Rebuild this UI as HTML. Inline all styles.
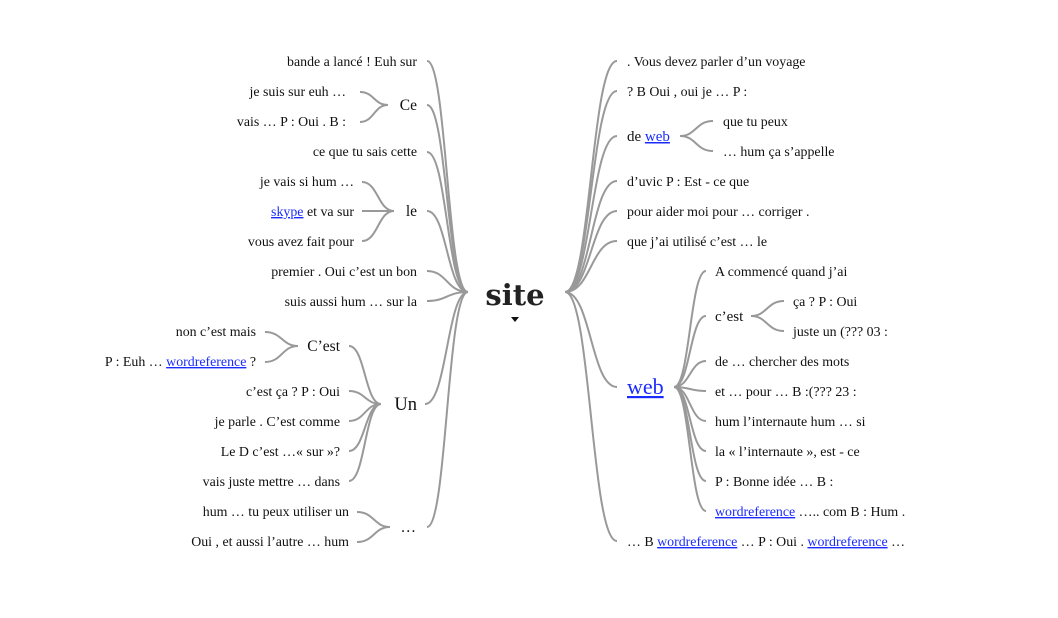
<!DOCTYPE html>
<html><head><meta charset="utf-8"><style>
html,body{margin:0;padding:0;background:#fff;}
svg{display:block;}
text{font-family:"Liberation Serif",serif;font-size:13.9px;fill:#111;}
.l{fill:#1a2bff;text-decoration:underline;}
path{fill:none;stroke:#999;stroke-width:2;}
</style></head><body>
<svg width="1058" height="618" viewBox="0 0 1058 618" xmlns="http://www.w3.org/2000/svg">
<g>
<path d="M468 292 C447 292,447 61,427 61"/>
<path d="M468 292 C447 292,447 105,427 105"/>
<path d="M468 292 C447 292,447 152,427 152"/>
<path d="M468 292 C447 292,447 211,427 211"/>
<path d="M468 292 C447 292,447 271,427 271"/>
<path d="M468 292 C447 292,447 301,427 301"/>
<path d="M468 292 C447 292,447 404,425 404"/>
<path d="M468 292 C447 292,447 527,427 527"/>
<path d="M388 105 C374 105,374 92,360 92"/>
<path d="M388 105 C374 105,374 122,360 122"/>
<path d="M394 211 C378 211,378 182,362 182"/>
<path d="M394 211 C378 211,378 211,362 211"/>
<path d="M394 211 C378 211,378 241,362 241"/>
<path d="M381 404 C365 404,365 346,349 346"/>
<path d="M381 404 C365 404,365 391,349 391"/>
<path d="M381 404 C365 404,365 421,349 421"/>
<path d="M381 404 C365 404,365 451,349 451"/>
<path d="M381 404 C365 404,365 481,349 481"/>
<path d="M298 346 C282 346,282 332,265 332"/>
<path d="M298 346 C282 346,282 362,265 362"/>
<path d="M390 527 C374 527,374 512,357 512"/>
<path d="M390 527 C374 527,374 542,357 542"/>
<path d="M565 292 C591 292,591 61,617 61"/>
<path d="M565 292 C591 292,591 91,617 91"/>
<path d="M565 292 C591 292,591 136,617 136"/>
<path d="M565 292 C591 292,591 181,617 181"/>
<path d="M565 292 C591 292,591 211,617 211"/>
<path d="M565 292 C591 292,591 241,617 241"/>
<path d="M565 292 C591 292,591 387,617 387"/>
<path d="M565 292 C591 292,591 541,617 541"/>
<path d="M680 136 C696 136,696 121,713 121"/>
<path d="M680 136 C696 136,696 151,713 151"/>
<path d="M674 387 C690 387,690 271,706 271"/>
<path d="M674 387 C690 387,690 316,706 316"/>
<path d="M674 387 C690 387,690 361,706 361"/>
<path d="M674 387 C690 387,690 391,706 391"/>
<path d="M674 387 C690 387,690 421,706 421"/>
<path d="M674 387 C690 387,690 451,706 451"/>
<path d="M674 387 C690 387,690 481,706 481"/>
<path d="M674 387 C690 387,690 511,706 511"/>
<path d="M751 316 C767 316,767 301,784 301"/>
<path d="M751 316 C767 316,767 331,784 331"/>
</g>

<g text-anchor="end">
<text x="417" y="66">bande a lancé ! Euh sur</text>
<text x="346" y="96">je suis sur euh …</text>
<text x="346" y="126">vais … P : Oui . B :</text>
<text x="417" y="110" style="font-size:15.5px">Ce</text>
<text x="417" y="156">ce que tu sais cette</text>
<text x="354" y="186">je vais si hum …</text>
<text x="354" y="216"><tspan class="l">skype</tspan> et va sur</text>
<text x="354" y="246">vous avez fait pour</text>
<text x="417" y="216" style="font-size:15.5px">le</text>
<text x="417" y="276">premier . Oui c’est un bon</text>
<text x="417" y="306">suis aussi hum … sur la</text>
<text x="256" y="336">non c’est mais</text>
<text x="256" y="366">P : Euh … <tspan class="l">wordreference</tspan> ?</text>
<text x="340" y="351" style="font-size:15.5px">C’est</text>
<text x="340" y="396">c’est ça ? P : Oui</text>
<text x="340" y="426">je parle . C’est comme</text>
<text x="340" y="456">Le D c’est …« sur »?</text>
<text x="340" y="486">vais juste mettre … dans</text>
<text x="417" y="410" style="font-size:18.5px">Un</text>
<text x="349" y="516">hum … tu peux utiliser un</text>
<text x="349" y="546">Oui , et aussi l’autre … hum</text>
<text x="416" y="532" style="font-size:15.5px">…</text>
</g>

<text x="515" y="305" text-anchor="middle" style="font-family:'DejaVu Serif',serif;font-weight:bold;font-size:29px;fill:#222">site</text>
<polygon points="511,317 519,317 515,322" fill="#111"/>

<g>
<text x="627" y="66">. Vous devez parler d’un voyage</text>
<text x="627" y="96">? B Oui , oui je … P :</text>
<text x="627" y="141" style="font-size:15px">de <tspan class="l">web</tspan></text>
<text x="723" y="126">que tu peux</text>
<text x="723" y="156">… hum ça s’appelle</text>
<text x="627" y="186">d’uvic P : Est - ce que</text>
<text x="627" y="216">pour aider moi pour … corriger .</text>
<text x="627" y="246">que j’ai utilisé c’est … le</text>
<text x="627" y="394" class="l" style="font-size:22px">web</text>
<text x="715" y="276">A commencé quand j’ai</text>
<text x="715" y="321" style="font-size:15px">c’est</text>
<text x="793" y="306">ça ? P : Oui</text>
<text x="793" y="336">juste un (??? 03 :</text>
<text x="715" y="366">de … chercher des mots</text>
<text x="715" y="396">et … pour … B :(??? 23 :</text>
<text x="715" y="426">hum l’internaute hum … si</text>
<text x="715" y="456">la « l’internaute », est - ce</text>
<text x="715" y="486">P : Bonne idée … B :</text>
<text x="715" y="516"><tspan class="l">wordreference</tspan> ….. com B : Hum .</text>
<text x="627" y="546">… B <tspan class="l">wordreference</tspan> … P : Oui . <tspan class="l">wordreference</tspan> …</text>
</g>
</svg>
</body></html>
